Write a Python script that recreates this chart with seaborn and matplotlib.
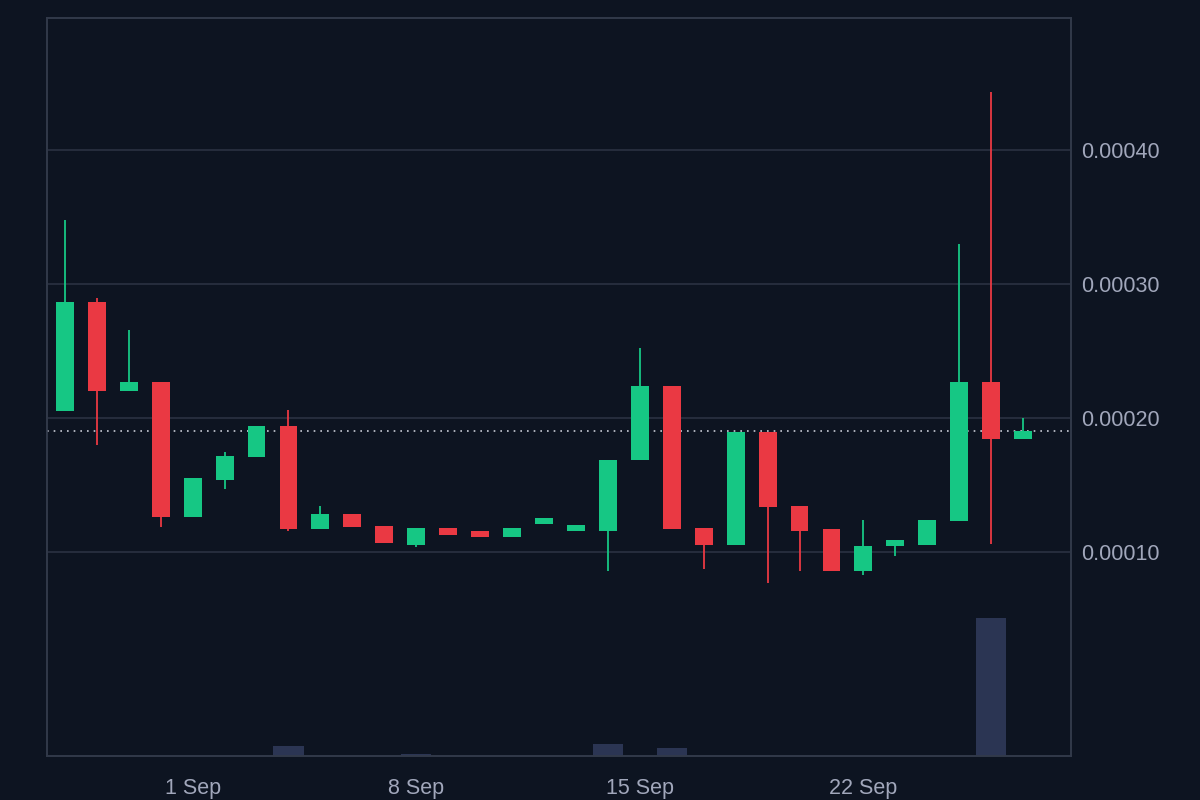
import matplotlib
matplotlib.use("Agg")
import matplotlib.pyplot as plt
import matplotlib.dates as mdates
import seaborn as sns
import pandas as pd
import numpy as np

dates = pd.date_range("2024-08-28", "2024-09-27", freq="D")
# values in units of 1e-5
opens  = [20.52,28.66,22.01,22.69,12.61,15.37,17.09,19.40,11.72,12.84,11.94,10.52,11.79,11.34,11.12,12.09,11.57,11.57,16.87,22.39,11.79,10.52,18.96,13.43,11.72,8.58,10.45,10.52,12.31,22.69,18.43]
closes = [28.66,22.01,22.69,12.61,15.52,17.16,19.40,11.72,12.84,11.87,10.67,11.79,11.27,11.12,11.79,12.39,11.72,16.87,22.39,11.72,10.52,18.96,13.36,11.57,8.58,10.45,10.60,12.39,22.69,18.43,19.03]
highs  = [34.78,28.96,26.57,22.69,15.52,17.46,19.40,20.60,13.43,12.84,11.94,11.79,11.79,11.34,11.79,12.39,11.72,16.87,25.22,22.39,11.79,18.96,18.96,13.43,11.72,12.39,10.60,12.39,32.99,44.33,20.00]
lows   = [20.52,17.99,22.01,11.87,12.61,14.70,17.09,11.57,11.72,11.87,10.67,10.37,11.27,11.12,11.12,12.09,11.57,8.58,22.39,11.72,8.73,10.52,7.69,8.58,8.58,8.28,9.70,10.52,12.31,10.60,18.43]
volumes = [0,0,0,0,0,0,0,10,0,0,0,2,0,0,0,0,0,12,0,8,0,0,0,0,0,0,0,0,0,138,0]

scale = 1e-5
df = pd.DataFrame({"date": dates, "open": np.array(opens)*scale, "close": np.array(closes)*scale,
                   "high": np.array(highs)*scale, "low": np.array(lows)*scale, "volume": volumes})

BG = "#0d1421"; GREEN = "#16c784"; RED = "#ea3943"; VOL = "#2b3553"; GRID = "#2a3242"; TXT = "#a1a7bb"
sns.set_theme(style="dark", rc={"axes.facecolor": BG, "figure.facecolor": BG})
plt.rcParams['font.family'] = ['Liberation Sans', 'DejaVu Sans']

fig = plt.figure(figsize=(12, 8), dpi=100)
ax = fig.add_axes([47/1200, 1-756/800, (1071-47)/1200, (756-18)/800])
axv = ax.twinx()
axv.set_zorder(0); ax.set_zorder(1); ax.patch.set_visible(False)
axv.set_facecolor(BG)

x = mdates.date2num(df["date"])
axv.bar(x, df["volume"], width=0.95, color=VOL, linewidth=0)
axv.set_ylim(0, 738)
axv.set_yticks([])

colors = [GREEN if c >= o else RED for o, c in zip(df["open"], df["close"])]
ax.vlines(x, df["low"], df["high"], colors=colors, linewidth=1.3, zorder=2)
bottoms = np.minimum(df["open"], df["close"])
heights = np.maximum(np.abs(df["close"] - df["open"]), 0.45*scale)
ax.bar(x, heights, bottom=bottoms, width=0.56, color=colors, linewidth=0, zorder=3)

last = df["close"].iloc[-1]
ax.axhline(last, color="#c8ccd6", linestyle=(0, (1, 3)), linewidth=1.2, zorder=1)

ax.set_ylim(-5.22e-5, 49.85e-5)
ax.set_xlim(x[0]-0.56, x[-1]+1.5)
ax.set_yticks([1e-4, 2e-4, 3e-4, 4e-4])
ax.set_yticklabels(["0.00010", "0.00020", "0.00030", "0.00040"])
ax.yaxis.tick_right()
ax.grid(axis="y", color=GRID, linewidth=1.2)
ax.grid(axis="x", visible=False)
ticks = mdates.date2num(pd.to_datetime(["2024-09-01", "2024-09-08", "2024-09-15", "2024-09-22"]))
ax.set_xticks(ticks)
ax.set_xticklabels(["1 Sep", "8 Sep", "15 Sep", "22 Sep"])
ax.tick_params(colors=TXT, labelsize=15.5, length=0)
ax.tick_params(axis="x", pad=16)
ax.tick_params(axis="y", pad=7)
for a in (ax, axv):
    for s in a.spines.values():
        s.set_color("#323a4a"); s.set_linewidth(1.2)

fig.savefig("out.png", dpi=100, facecolor=BG)
